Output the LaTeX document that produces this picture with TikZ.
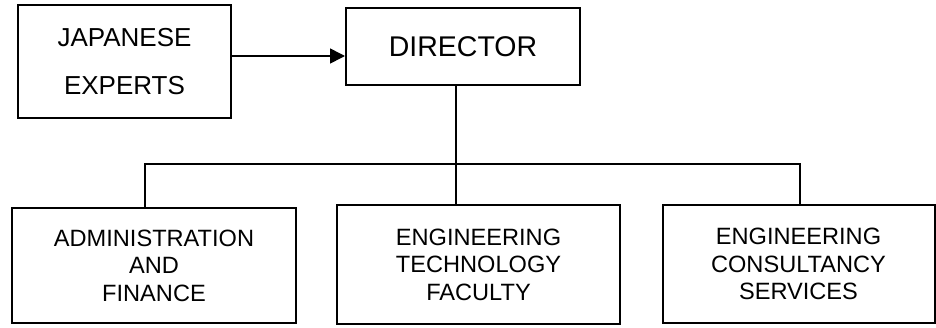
\documentclass[tikz,border=0pt]{standalone}
\usepackage{fontspec}
\setmainfont{Liberation Sans}
\usetikzlibrary{arrows.meta}
\begin{document}
\begin{tikzpicture}[x=1pt,y=-1pt,
  box/.style={draw, line width=2pt, align=center, inner sep=0pt},
  conn/.style={line width=1.6pt},
  arr/.style={line width=1.6pt, -{Triangle[length=15pt,width=15pt]}},
  small/.style={font=\fontsize{23.6}{27.5}\selectfont}]
\useasboundingbox (0,0) rectangle (936,327);
\node[box, minimum width=213pt, minimum height=113pt, font=\fontsize{26}{48}\selectfont] (jap) at (124.5,61.5) {JAPANESE\\EXPERTS};
\node[box, minimum width=234pt, minimum height=77pt, font=\fontsize{28.5}{32}\selectfont] (dir) at (463,46.5) {DIRECTOR};
\node[box, small, minimum width=284pt, minimum height=115pt] (adm) at (154,265.5) {ADMINISTRATION\\AND\\FINANCE};
\node[box, small, minimum width=283pt, minimum height=119pt] (eng) at (478.5,264.5) {ENGINEERING\\TECHNOLOGY\\FACULTY};
\node[box, small, minimum width=272pt, minimum height=118pt] (con) at (798.5,264) {ENGINEERING\\CONSULTANCY\\SERVICES};
\coordinate (bl) at (145,164);
\coordinate (bm) at (456,164);
\coordinate (br) at (800,164);
\draw[arr] ([yshift=5.5pt]jap.east) -- ([yshift=5.5pt]jap.east -| dir.west);
\draw[conn] (bl |- adm.north) -- (bl) -- (br) -- (br |- con.north);
\draw[conn] (bm |- dir.south) -- (bm |- eng.north);
\end{tikzpicture}
\end{document}
